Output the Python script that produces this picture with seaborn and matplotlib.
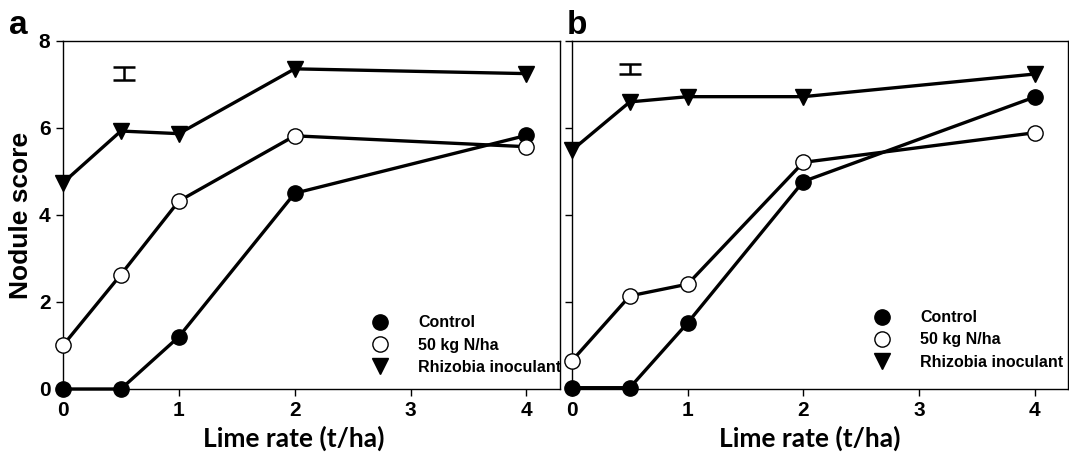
import matplotlib
matplotlib.use("Agg")
import matplotlib.pyplot as plt
from matplotlib.lines import Line2D
import seaborn as sns
import pandas as pd

lime = [0, 0.5, 1, 2, 4]
series = ["Control", "50 kg N/ha", "Rhizobia inoculant"]

a_control = [0.0, 0.0, 1.2, 4.5, 5.83]
a_nitrogen = [1.0, 2.63, 4.32, 5.82, 5.57]
a_rhizobia = [4.74, 5.93, 5.87, 7.36, 7.25]

b_control = [0.03, 0.03, 1.52, 4.77, 6.71]
b_nitrogen = [0.65, 2.14, 2.41, 5.21, 5.89]
b_rhizobia = [5.49, 6.6, 6.72, 6.72, 7.24]

# LSD-style error bars (x, centre, half-length)
a_err = (0.53, 7.25, 0.15)
b_err = (0.5, 7.36, 0.12)

xticks = [0, 1, 2, 3, 4]
yticks = [0, 2, 4, 6, 8]

sns.set_theme(style="white")
plt.rcParams['font.family'] = ['Liberation Sans', 'DejaVu Sans']
plt.rcParams['font.weight'] = 'bold'
plt.rcParams['text.color'] = 'black'
plt.rcParams['axes.labelcolor'] = 'black'

fig = plt.figure(figsize=(10.69, 4.57), dpi=100)
ax_a = fig.add_axes([0.0589, 0.1488, 0.465, 0.7615])
ax_b = fig.add_axes([0.5351, 0.1488, 0.464, 0.7615])

styles = [("o", "black"), ("o", "white"), ("v", "black")]

def draw(ax, vals, err, legend_pos, show_ylabels, xlab_x):
    for name, v, (mk, fc) in zip(series, vals, styles):
        df = pd.DataFrame({"x": lime, "y": v})
        sns.lineplot(data=df, x="x", y="y", ax=ax, color="black", lw=2.4,
                     marker=mk, markersize=11 if mk == "o" else 12,
                     markerfacecolor=fc, markeredgecolor="black",
                     markeredgewidth=1.0, sort=False, clip_on=False, zorder=3)
    ax.errorbar([err[0]], [err[1]], yerr=[err[2]], color="black", lw=1.8,
                capsize=8, capthick=1.8, fmt="none")
    ax.set_xlim(0, 4.29)
    ax.set_ylim(0, 8)
    ax.set_xticks(xticks)
    ax.set_yticks(yticks)
    ax.tick_params(direction="out", length=5, width=1, colors="black",
                   bottom=True, left=True, labelsize=15, pad=4)
    if not show_ylabels:
        ax.set_yticklabels([])
    for lab in ax.get_xticklabels() + ax.get_yticklabels():
        lab.set_fontweight("bold")
    for s in ax.spines.values():
        s.set_visible(True)
        s.set_color("black")
        s.set_linewidth(1.0)
    ax.set_xlabel("Lime rate (t/ha)", fontsize=19, fontweight="bold",
                  family=["Lato", "DejaVu Sans"], color="black")
    ax.xaxis.set_label_coords(xlab_x, -0.105)
    ax.set_ylabel("Nodule score" if show_ylabels else "", fontsize=19,
                  fontweight="bold", labelpad=4, color="black")
    handles = [Line2D([], [], ls="none", marker=mk, markersize=11,
                      markerfacecolor=fc, markeredgecolor="black",
                      markeredgewidth=1.0) for mk, fc in styles]
    ax.legend(handles, series, loc="center left", bbox_to_anchor=legend_pos,
              frameon=False, prop={"weight": "bold", "size": 11.5},
              handlelength=1.0, handletextpad=1.9, labelspacing=0.45,
              borderpad=0, borderaxespad=0, labelcolor="black")

draw(ax_a, [a_control, a_nitrogen, a_rhizobia], a_err, (0.622, 0.126), True, 0.465)
draw(ax_b, [b_control, b_nitrogen, b_rhizobia], b_err, (0.609, 0.141), False, 0.48)

fig.text(0.008, 0.925, "a", fontsize=24, fontweight="bold", color="black")
fig.text(0.53, 0.925, "b", fontsize=24, fontweight="bold", color="black")

fig.savefig("out.png", dpi=100)
